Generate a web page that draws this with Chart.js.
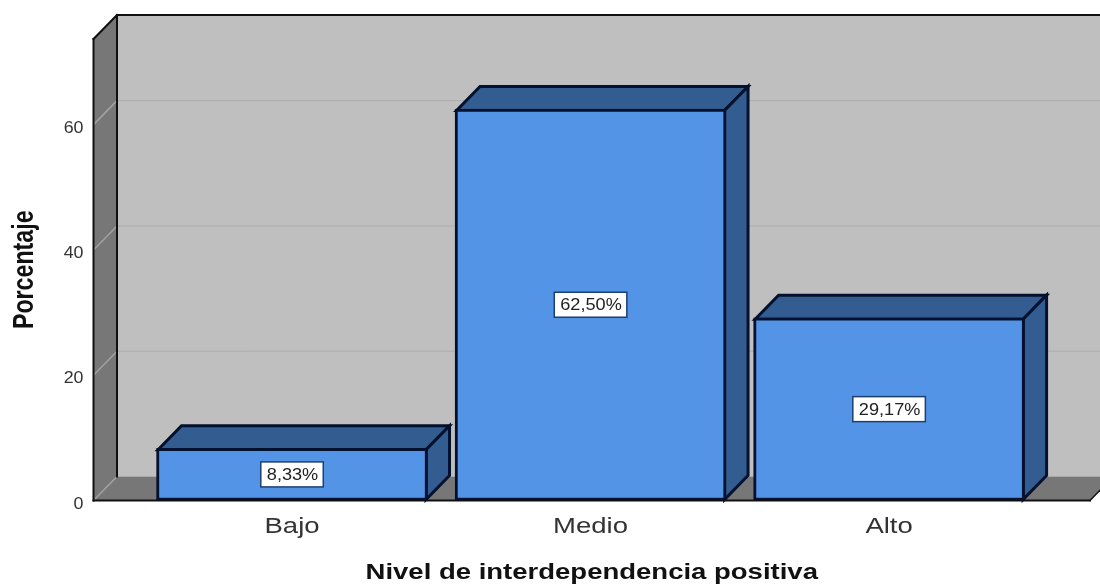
<!DOCTYPE html>
<html><head><meta charset="utf-8">
<style>html,body{margin:0;padding:0;background:#fff}#w{width:1100px;height:586px}</style>
<script src="https://cdn.jsdelivr.net/npm/chart.js@4"></script>
</head><body><div id="w"><canvas id="c"></canvas></div>
<script>
const categories = ['Bajo', 'Medio', 'Alto'];
const percentages = [8.33, 62.5, 29.17];
const percentLabels = ['8,33%', '62,50%', '29,17%'];
const yTickStep = 20;
const yMax = 73.67;

const DEPTH_X = 23.5, DEPTH_Y = 24;
const COL = {wall:'#bfbfbf', side:'#777777', grid:'#adadad', sideGrid:'#a2a2a2', edge:'#101010',
  front:'#5494e6', shade:'#335c90', barEdge:'#03112e', boxEdge:'#1d3f70'};
const FONT = '"Liberation Sans", Arial, sans-serif';

// draws text stretched along its own direction (the reference image is horizontally stretched)
function stretched(ctx, k, fn){
  const orig = ctx.fillText;
  ctx.fillText = function(t,x,y){
    ctx.save();ctx.translate(x,y);ctx.scale(k,1);orig.call(ctx,t,0,0);ctx.restore();
  };
  fn();
  delete ctx.fillText;
}
function wrapScale(s, labelK, titleK){
  if(s.__wrapped) return;
  s.__wrapped = true;
  const dl = s.drawLabels, dt = s.drawTitle;
  s.drawLabels = function(a){ stretched(s.ctx,labelK,()=>dl.call(s,a)); };
  s.drawTitle = function(a){ stretched(s.ctx,titleK,()=>dt.call(s,a)); };
}
function poly(ctx, pts, fill, stroke, lw){
  ctx.beginPath();
  pts.forEach((p,i)=> i ? ctx.lineTo(p[0],p[1]) : ctx.moveTo(p[0],p[1]));
  ctx.closePath();
  if(fill){ctx.fillStyle=fill;ctx.fill();}
  if(stroke){ctx.strokeStyle=stroke;ctx.lineWidth=lw;ctx.lineJoin='miter';ctx.stroke();}
}
function seg(ctx,x0,y0,x1,y1,c,lw){
  ctx.beginPath();ctx.moveTo(x0,y0);ctx.lineTo(x1,y1);ctx.strokeStyle=c;ctx.lineWidth=lw;ctx.stroke();
}
const box3d = {
  id:'box3d',
  afterLayout(chart){
    wrapScale(chart.scales.x,1.25,1.25);
    wrapScale(chart.scales.y,1.08,0.8);
  },
  beforeDraw(chart){
    const {ctx,chartArea:a,scales:{y}} = chart;
    const L=a.left,R=a.right,T=a.top,B=a.bottom,dx=DEPTH_X,dy=DEPTH_Y;
    ctx.save();
    ctx.fillStyle='#fff';ctx.fillRect(0,0,chart.width,chart.height);
    poly(ctx,[[L+dx,T-dy+1],[R+dx,T-dy+1],[R+dx,B-dy],[L+dx,B-dy]],COL.wall);
    poly(ctx,[[L,T],[L+dx,T-dy],[L+dx,B-dy],[L,B]],COL.side);
    poly(ctx,[[L,B],[L+dx,B-dy],[R+dx,B-dy],[R,B]],COL.side);
    y.ticks.forEach(t=>{
      const py=y.getPixelForValue(t.value);
      if(t.value>0) seg(ctx,L+dx,py-dy,R+dx,py-dy,COL.grid,1);
      seg(ctx,L,py,L+dx,py-dy,COL.sideGrid,1.5);
    });
    ctx.lineCap='square';
    seg(ctx,L+dx,T-dy,R+dx+20,T-dy,COL.edge,2);
    seg(ctx,L,T,L+dx,T-dy,COL.edge,2);
    seg(ctx,L,T,L,B,COL.edge,2);
    seg(ctx,L+dx,T-dy,L+dx,B-dy,COL.edge,2);
    seg(ctx,L,B,R,B,COL.edge,2);
    seg(ctx,R,B,R+dx,B-dy,COL.edge,1.5);
    ctx.restore();
  },
  beforeDatasetsDraw(chart){
    const {ctx} = chart;
    ctx.save();
    chart.getDatasetMeta(0).data.forEach(b=>{
      const l=b.x-b.width/2+1.5,r=b.x+b.width/2-1.5,t=b.y+1.5,bt=b.base-1,dx=DEPTH_X,dy=DEPTH_Y;
      poly(ctx,[[l,t],[l+dx,t-dy],[r+dx,t-dy],[r,t]],COL.shade,COL.barEdge,3);
      poly(ctx,[[r,t],[r+dx,t-dy],[r+dx,bt-dy],[r,bt]],COL.shade,COL.barEdge,3);
    });
    ctx.restore();
  },
  afterDatasetsDraw(chart){
    const {ctx} = chart;
    const k = 1.1;
    ctx.save();
    ctx.font='16.5px '+FONT;ctx.textAlign='center';ctx.textBaseline='middle';
    chart.getDatasetMeta(0).data.forEach((b,i)=>{
      const txt=percentLabels[i],cy=(b.y+b.base)/2,w=ctx.measureText(txt).width*k+11,h=25;
      ctx.fillStyle='#fff';ctx.fillRect(b.x-w/2,cy-h/2,w,h);
      ctx.strokeStyle=COL.boxEdge;ctx.lineWidth=1.5;ctx.strokeRect(b.x-w/2,cy-h/2,w,h);
      ctx.fillStyle='#222';
      stretched(ctx,k,()=>ctx.fillText(txt,b.x+.5,cy+1));
    });
    ctx.restore();
  }
};
new Chart(document.getElementById('c'),{
  type:'bar',
  data:{datasets:[{
    label:'Porcentaje',
    data:percentages.map((v,i)=>({x:i,y:v})),
    backgroundColor:COL.front,borderColor:COL.barEdge,borderWidth:3,borderSkipped:false,
    barThickness:271
  }]},
  plugins:[box3d],
  options:{
    responsive:true,maintainAspectRatio:false,animation:false,
    layout:{padding:{top:39,right:10,left:0,bottom:0}},
    plugins:{legend:{display:false},tooltip:{enabled:false}},
    scales:{
      x:{type:'linear',offset:false,min:-0.665,max:2.673,
        grid:{display:false,drawTicks:false},border:{display:false},
        afterFit(s){s.height=85.5;},
        ticks:{stepSize:1,includeBounds:false,autoSkip:false,maxRotation:0,padding:13,color:'#333',
          font:{family:FONT,size:22},callback:v=>categories[v]??''},
        title:{display:true,text:'Nivel de interdependencia positiva',color:'#111',
          font:{family:FONT,size:22,weight:'bold'},padding:{top:14,bottom:0}}
      },
      y:{min:0,max:yMax,
        grid:{display:false,drawTicks:false},border:{display:false},
        afterFit(s){s.width=93.5;},
        ticks:{stepSize:yTickStep,includeBounds:false,padding:10,labelOffset:3.5,color:'#333',
          font:{family:FONT,size:16.5}},
        title:{display:true,text:'Porcentaje',color:'#111',
          font:{family:FONT,size:29,weight:'bold'},padding:{top:8,bottom:0}}
      }
    }
  }
});
</script></body></html>
